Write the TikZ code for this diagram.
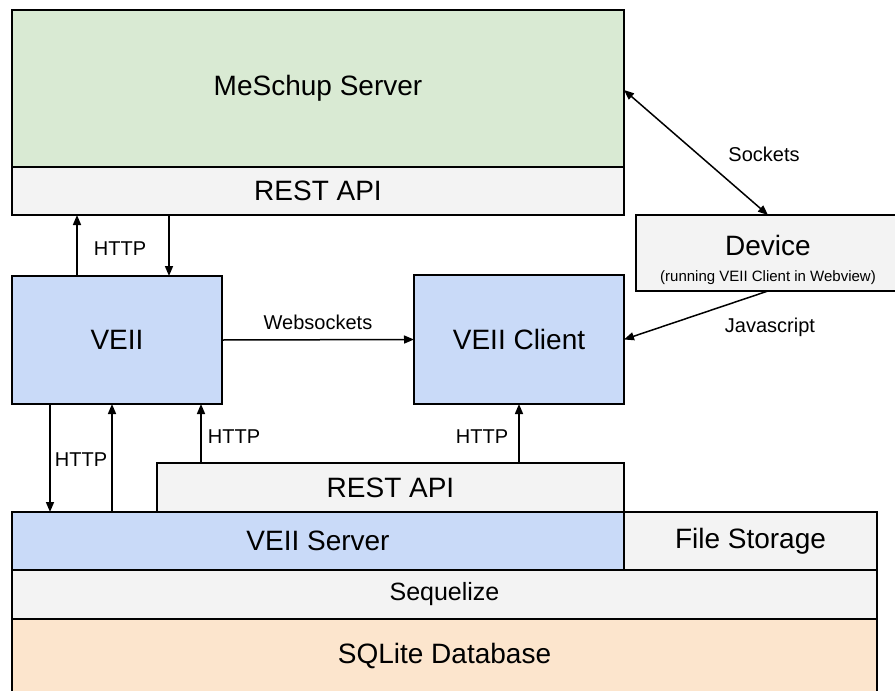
\documentclass[tikz,border=0pt]{standalone}
\usepackage{fontspec}
\setmainfont{Liberation Sans}
\usetikzlibrary{arrows.meta,calc}

\definecolor{srvgreen}{HTML}{D9EAD3}
\definecolor{layergrey}{HTML}{F3F3F3}
\definecolor{appblue}{HTML}{C9DAF8}
\definecolor{dbpeach}{HTML}{FCE5CD}

\newcommand{\fsz}[1]{\fontsize{#1}{#1}\selectfont}

\tikzset{
  box/.style={draw=black, line width=2pt, inner sep=0pt, outer sep=0pt,
    anchor=north west, align=center, font=\fsz{28}},
  arr/.style={line width=1.5pt, -{Triangle[length=10pt,width=8pt]}},
  arr2/.style={line width=1.5pt, {Triangle[length=10pt,width=8pt]}-{Triangle[length=10pt,width=8pt]}},
  lbl/.style={inner sep=0pt, font=\fsz{20}}
}

\begin{document}
\begin{tikzpicture}[x=1pt, y=-1pt]
\useasboundingbox (0,0) rectangle (895,691);
\clip (0,0) rectangle (895,691);

% MeSchup server with its REST layer
\node[box, fill=srvgreen, minimum width=612, minimum height=157] (meschup) at (12,10) {MeSchup Server};
\node[box, fill=layergrey, minimum width=612, minimum height=48] (meapi) at (12,167) {REST API};

% device running the client
\node[box, fill=layergrey, minimum width=264, minimum height=76] (device) at (636,215)
  {\rule{0pt}{35pt}\fsz{28}Device\\[-2pt]{\fsz{15}(running VEII Client in Webview)}};

% front-end parts
\node[box, fill=appblue, minimum width=210, minimum height=128] (veii) at (12,276) {VEII};
\node[box, fill=appblue, minimum width=210, minimum height=129] (client) at (414,275) {VEII Client};

% server stack
\node[box, fill=layergrey, minimum width=467, minimum height=49] (restapi) at (157,463) {REST API};
\node[box, fill=appblue, minimum width=612, minimum height=58] (veiiserver) at (12,512) {VEII Server};
\node[box, fill=layergrey, minimum width=253, minimum height=58] (files) at (624,512) {File Storage};
\node[box, fill=layergrey, minimum width=865, minimum height=49, font=\fsz{25}] (seq) at (12,570) {Sequelize};
\node[box, fill=dbpeach, minimum width=865, minimum height=90] (sqlite) at (12,619) {};
\node[font=\fsz{28}] (sqlitetext) at (444.5,656) {SQLite Database};

% VEII <-> MeSchup REST API
\draw[arr] ($(veii.north west)+(65,0)$) -- ($(meapi.south west)+(65,0)$);
\draw[arr] ($(meapi.south west)+(157,0)$) -- ($(veii.north west)+(157,0)$);
\node[lbl] (httpa) at (120,249) {HTTP};

% MeSchup <-> device
\draw[arr2] ($(meschup.north east)+(0,80)$) -- (device.north);
\node[lbl] (sockets) at (764,154) {Sockets};

% device -> client
\draw[arr] (device.south) -- (client.east);
\node[lbl] (js) at (770,327) {Javascript};

% VEII -> client
\draw[arr] (veii.east) -- (client.west);
\node[lbl] (ws) at (318,322) {Websockets};

% VEII <-> VEII server
\draw[arr] ($(veii.south west)+(38,0)$) -- ($(veiiserver.north west)+(38,0)$);
\draw[arr] ($(veiiserver.north west)+(100,0)$) -- ($(veii.south west)+(100,0)$);
\node[lbl] (httpb) at (81,460) {HTTP};

% REST API -> VEII and client
\draw[arr] ($(restapi.north west)+(44,0)$) -- ($(veii.south west)+(189,0)$);
\node[lbl] (httpc) at (234,437) {HTTP};
\draw[arr] ($(restapi.north west)+(362,0)$) -- ($(client.south west)+(105,0)$);
\node[lbl] (httpd) at (482,437) {HTTP};
\end{tikzpicture}
\end{document}
